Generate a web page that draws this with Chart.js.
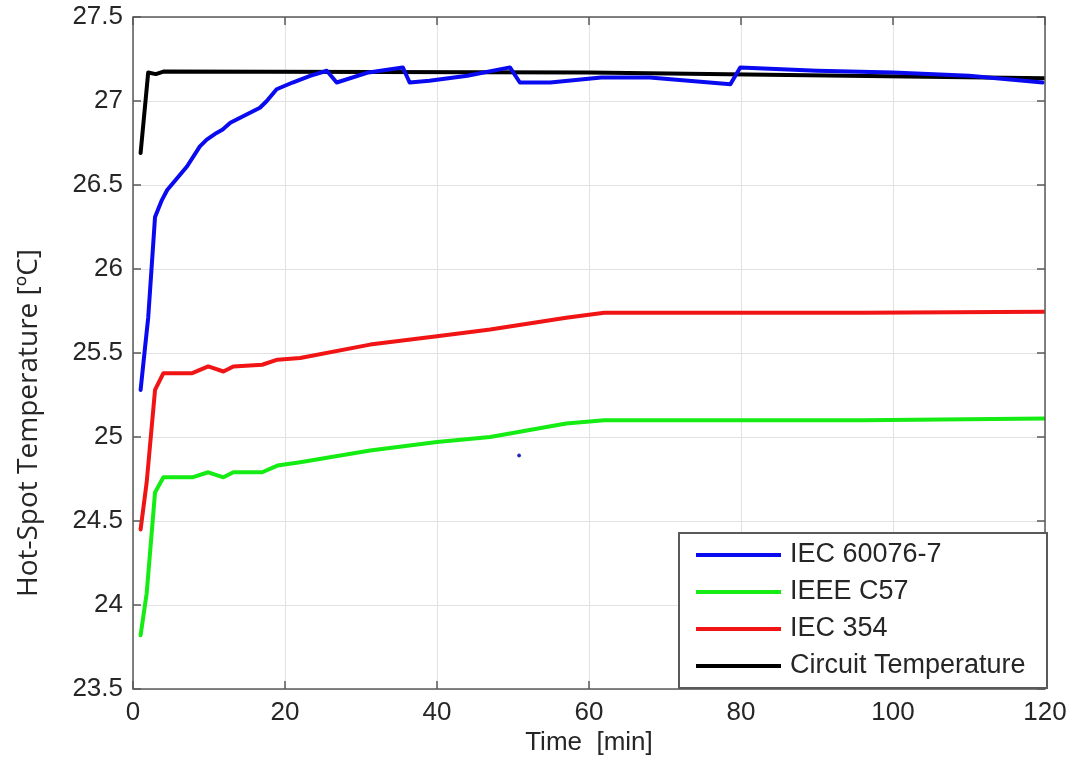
<!DOCTYPE html>
<html>
<head>
<meta charset="utf-8">
<script src="https://cdn.jsdelivr.net/npm/chart.js@4/dist/chart.umd.min.js"></script>
<style>
  html, body { margin: 0; padding: 0; background: #fff; }
  #wrap { width: 1075px; height: 762px; }
</style>
</head>
<body>
<div id="wrap"><canvas id="hotSpotChart"></canvas></div>
<script>
// values (time in minutes, temperature in degC)
const iecTime = [1, 1.6, 2, 2.6, 2.9, 3.8, 4.5, 7.1, 8.8, 9.7, 11, 11.8, 12.8, 14.1, 16.7, 17.6, 18.9, 21, 23.3, 25.5, 26.8, 31, 35.5, 36.4, 39, 44, 49.6, 50.9, 54.9, 61.6, 68, 78.6, 79.9, 90, 100, 110, 119.7];
const iecTemp = [25.28, 25.54, 25.71, 26.11, 26.31, 26.41, 26.47, 26.61, 26.73, 26.77, 26.81, 26.83, 26.87, 26.9, 26.96, 27.0, 27.07, 27.11, 27.15, 27.18, 27.11, 27.17, 27.2, 27.11, 27.12, 27.15, 27.2, 27.11, 27.11, 27.14, 27.14, 27.1, 27.2, 27.18, 27.17, 27.15, 27.11];

const stepTime = [1, 1.8, 2.9, 4, 7.8, 9.9, 11.9, 13.2, 17, 19, 22, 31.2, 40, 47, 57, 62, 96, 120];
const ieeeTemp = [23.82, 24.07, 24.67, 24.76, 24.76, 24.79, 24.76, 24.79, 24.79, 24.83, 24.85, 24.92, 24.97, 25.0, 25.08, 25.1, 25.1, 25.11];
const iec354Temp = [24.45, 24.73, 25.28, 25.38, 25.38, 25.42, 25.39, 25.42, 25.43, 25.46, 25.47, 25.55, 25.6, 25.64, 25.71, 25.74, 25.74, 25.745];

const circuitTime = [1, 2, 3, 4, 60, 120];
const circuitTemp = [26.69, 27.17, 27.16, 27.175, 27.17, 27.135];

// stray marker in the original plot
const strayTime = [50.8];
const strayTemp = [24.89];

const seriesLabels = ["IEC 60076-7", "IEEE C57", "IEC 354", "Circuit Temperature"];
const yTitle = "Hot-Spot Temperature [ºC]";

function toPoints(xs, ys) {
    return xs.map((x, i) => ({ x: x, y: ys[i] }));
}

const textColor = "#262626";
const tickFont = { family: "'Liberation Sans', Arial, sans-serif", size: 26 };

// box around plot + inward tick marks (matlab style), y title
const frame = {
    id: "frame",
    afterDatasetsDraw(chart) {
        const { ctx, chartArea: a, scales } = chart;
        ctx.save();
        ctx.strokeStyle = "#5a5a5a";
        ctx.lineWidth = 1.5;
        ctx.strokeRect(a.left, a.top, a.right - a.left, a.bottom - a.top);
        ctx.beginPath();
        scales.x.ticks.forEach(t => {
            const px = scales.x.getPixelForValue(t.value);
            ctx.moveTo(px, a.bottom); ctx.lineTo(px, a.bottom - 8);
            ctx.moveTo(px, a.top); ctx.lineTo(px, a.top + 8);
        });
        scales.y.ticks.forEach(t => {
            const py = scales.y.getPixelForValue(t.value);
            ctx.moveTo(a.left, py); ctx.lineTo(a.left + 8, py);
            ctx.moveTo(a.right, py); ctx.lineTo(a.right - 8, py);
        });
        ctx.stroke();

        // y title sits a bit below the middle in the original
        ctx.translate(29, 423);
        ctx.rotate(-Math.PI / 2);
        ctx.font = "28px 'Open Sans', sans-serif";
        ctx.fillStyle = textColor;
        ctx.textAlign = "center";
        ctx.textBaseline = "middle";
        ctx.fillText(yTitle, 0, 0);
        ctx.restore();
    }
};

// legend box in lower right corner of the plot
const boxLegend = {
    id: "boxLegend",
    afterDraw(chart) {
        const { ctx, chartArea: a } = chart;
        const w = 368, h = 155;
        const x0 = a.right + 2 - w, y0 = a.bottom - 1 - h;
        ctx.save();
        ctx.fillStyle = "#fff";
        ctx.fillRect(x0, y0, w, h);
        ctx.strokeStyle = "#5a5a5a";
        ctx.lineWidth = 2;
        ctx.strokeRect(x0, y0, w, h);
        ctx.font = "27px 'Liberation Sans', Arial, sans-serif";
        ctx.textBaseline = "middle";
        chart.data.datasets.filter(d => d.inLegend).forEach((d, i) => {
            const y = y0 + 22 + i * 37;
            ctx.strokeStyle = d.borderColor;
            ctx.lineWidth = 4;
            ctx.beginPath();
            ctx.moveTo(x0 + 17, y); ctx.lineTo(x0 + 102, y);
            ctx.stroke();
            ctx.fillStyle = textColor;
            ctx.fillText(d.label, x0 + 111, y);
        });
        ctx.restore();
    }
};

const ctx = document.getElementById("hotSpotChart").getContext("2d");
new Chart(ctx, {
    type: "line",
    data: {
        datasets: [
            { label: seriesLabels[0], data: toPoints(iecTime, iecTemp), borderColor: "#0a0af0", inLegend: true },
            { label: seriesLabels[1], data: toPoints(stepTime, ieeeTemp), borderColor: "#14ec14", inLegend: true },
            { label: seriesLabels[2], data: toPoints(stepTime, iec354Temp), borderColor: "#f01414", inLegend: true },
            { label: seriesLabels[3], data: toPoints(circuitTime, circuitTemp), borderColor: "#000000", inLegend: true },
            { label: "marker", data: toPoints(strayTime, strayTemp), borderColor: "#2020c0", backgroundColor: "#2020c0",
              showLine: false, pointRadius: 1.5, inLegend: false }
        ]
    },
    options: {
        responsive: true,
        maintainAspectRatio: false,
        animation: false,
        elements: {
            line: { borderWidth: 4, tension: 0, borderJoinStyle: "round", borderCapStyle: "round" },
            point: { radius: 0 }
        },
        layout: { padding: { left: 10, right: 30, top: 17, bottom: 0 } },
        plugins: { legend: { display: false }, tooltip: { enabled: false } },
        scales: {
            x: {
                type: "linear",
                min: 0, max: 120,
                ticks: { stepSize: 20, color: textColor, font: tickFont, padding: 8, maxRotation: 0 },
                grid: { color: "#e2e2e2", drawTicks: false },
                border: { display: false },
                title: { display: true, text: "Time  [min]", color: textColor, font: tickFont, padding: { top: 2, bottom: 4 } },
                afterFit: s => { s.height = 73; }
            },
            y: {
                min: 23.5, max: 27.5,
                ticks: { stepSize: 0.5, color: textColor, font: { ...tickFont, lineHeight: 0.5 }, padding: 10,
                         callback: v => String(Number(v.toFixed(1))) },
                grid: { color: "#e2e2e2", drawTicks: false },
                border: { display: false },
                afterFit: s => { s.width = 123; }
            }
        }
    },
    plugins: [frame, boxLegend]
});
</script>
</body>
</html>
